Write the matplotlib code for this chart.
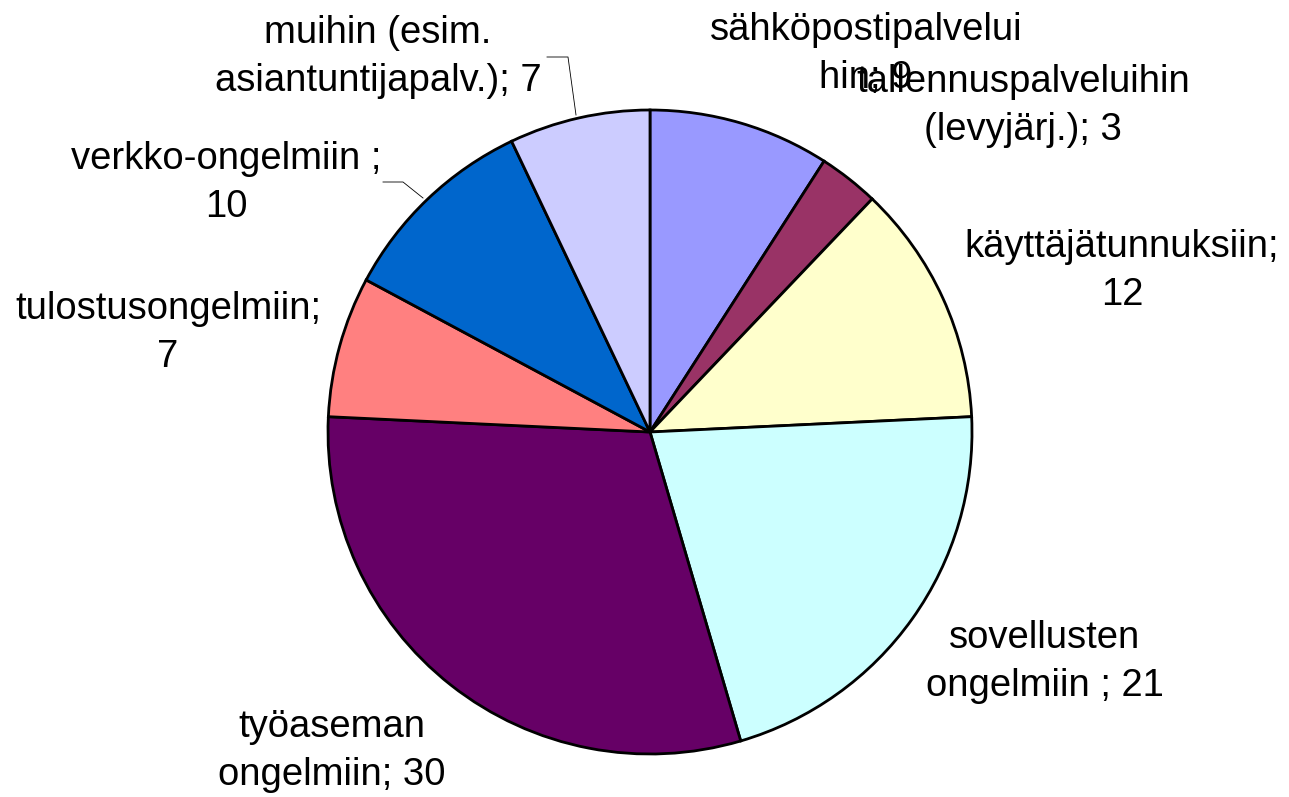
import matplotlib
matplotlib.use("Agg")
import matplotlib.pyplot as plt

plt.rcParams['font.family'] = ['Liberation Sans', 'DejaVu Sans']

# pie data, clockwise from 12 o'clock
labels = ["sähköpostipalvelui\nhin; 9", "tallennuspalveluihin\n(levyjärj.); 3",
          "käyttäjätunnuksiin;\n12", "sovellusten\nongelmiin ; 21",
          "työaseman\nongelmiin; 30", "tulostusongelmiin;\n7",
          "verkko-ongelmiin ;\n10", "muihin (esim.\nasiantuntijapalv.); 7"]
values = [9, 3, 12, 21, 30, 7, 10, 7]
colors = ["#9999FF", "#993366", "#FFFFCC", "#CCFFFF",
          "#660066", "#FF8080", "#0066CC", "#CCCCFF"]

# label positions in pixel coords (y from top)
label_pos = [(866, 54), (1023, 106), (1122, 271), (1045, 662),
             (332, 751), (168, 333), (226, 183), (378, 57)]

W, H = 1289, 797
fig = plt.figure(figsize=(W / 100, H / 100), dpi=100)
ax = fig.add_axes([0, 0, 1, 1])

ax.pie(values, colors=colors, startangle=90, counterclock=False,
       center=(650, H - 432), radius=322, frame=True,
       wedgeprops=dict(edgecolor='black', linewidth=2.0))
ax.set_xlim(0, W)
ax.set_ylim(0, H)
ax.set_aspect('equal')
ax.axis('off')

for txt, (x, y) in zip(labels, label_pos):
    ax.text(x, H - y, txt, ha='center', va='center', fontsize=27.5,
            linespacing=1.42, color='black')

# leader lines
ax.plot([547, 568, 576], [H - 57, H - 57, H - 115], color='black', lw=0.6)
ax.plot([383, 403, 423], [H - 182, H - 182, H - 198], color='black', lw=0.6)

fig.savefig("out.png", dpi=100)
